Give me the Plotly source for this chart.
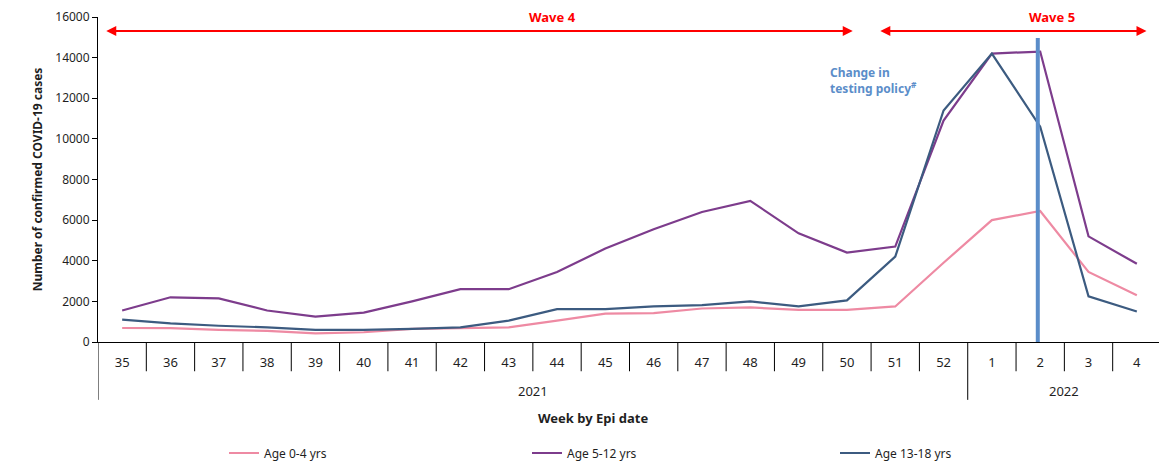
import plotly.graph_objects as go

# data
weeks = ["35", "36", "37", "38", "39", "40", "41", "42", "43", "44", "45",
         "46", "47", "48", "49", "50", "51", "52", "1", "2", "3", "4"]
years = ["2021"] * 18 + ["2022"] * 4

age_0_4 = [690, 680, 600, 550, 420, 480, 650, 700, 720, 1050, 1400,
           1420, 1650, 1700, 1580, 1580, 1750, 3900, 6000, 6450, 3450, 2300]
age_5_12 = [1550, 2200, 2150, 1550, 1250, 1450, 2000, 2600, 2600, 3450, 4600,
            5550, 6400, 6950, 5350, 4400, 4700, 10900, 14200, 14300, 5200, 3850]
age_13_18 = [1100, 920, 800, 720, 600, 600, 650, 720, 1050, 1620, 1620,
             1750, 1820, 2000, 1750, 2050, 4200, 11400, 14200, 10600, 2250, 1500]

series = [
    ("Age 0-4 yrs", age_0_4, "#EE8AA3", "legend"),
    ("Age 5-12 yrs", age_5_12, "#7D3C8C", "legend2"),
    ("Age 13-18 yrs", age_13_18, "#3C5B80", "legend3"),
]

FONT = "Noto Sans"
TXT = "#1f1f1f"
x = list(range(len(weeks)))

fig = go.Figure()
for name, vals, color, leg in series:
    fig.add_trace(go.Scatter(
        x=x, y=vals, name=name, mode="lines", legend=leg,
        line=dict(color=color, width=2.2)
    ))

shapes = []
# week separators (short) and year separators (long)
for i in range(len(weeks) + 1):
    b = i - 0.5
    long_line = i == 0 or i == len(weeks) or years[i] != years[i - 1]
    shapes.append(dict(
        type="line", xref="x", yref="paper", x0=b, x1=b,
        y0=0, y1=-0.178 if long_line else -0.09,
        line=dict(color="black", width=1)
    ))

# change in testing policy marker (week 2 of 2022)
policy_idx = weeks.index("2", 18)
shapes.append(dict(
    type="line", xref="x", yref="y", x0=policy_idx - 0.05, x1=policy_idx - 0.05,
    y0=0, y1=14970, line=dict(color="#5B8DC9", width=4)
))

annotations = []
# year labels
for yr in ["2021", "2022"]:
    idx = [i for i, v in enumerate(years) if v == yr]
    annotations.append(dict(
        x=sum(idx) / len(idx), y=-0.151, xref="x", yref="paper", yanchor="middle",
        text=yr, showarrow=False, font=dict(family=FONT, size=13, color=TXT)
    ))

# wave arrows
for x0, x1, label, lx in [(-0.36, 15.12, "Wave 4", 8.9), (15.66, 21.2, "Wave 5", 19.25)]:
    annotations.append(dict(
        x=x1, y=15310, ax=x0, ay=15310, xref="x", yref="y", axref="x", ayref="y",
        text="", showarrow=True, arrowhead=2, arrowside="end+start",
        arrowsize=1, arrowwidth=2, arrowcolor="#FF0000"
    ))
    annotations.append(dict(
        x=lx, y=16000, xref="x", yref="y", text="<b>" + label + "</b>",
        showarrow=False, font=dict(family=FONT, size=13, color="#FF0000")
    ))

annotations.append(dict(
    x=14.6, y=13800, xref="x", yref="y", xanchor="left", yanchor="top", align="left",
    text="<b>Change in<br>testing policy<sup>#</sup></b>", showarrow=False,
    font=dict(family=FONT, size=12, color="#5B8DC9")
))

annotations.append(dict(
    x=0.466, y=-0.234, xref="paper", yref="paper", yanchor="middle",
    text="<b>Week by Epi date</b>", showarrow=False,
    font=dict(family=FONT, size=13, color=TXT)
))

leg_style = dict(
    orientation="h", y=-0.3415, xanchor="left", yanchor="middle",
    bgcolor="rgba(0,0,0,0)", font=dict(family=FONT, size=12, color=TXT)
)

# page body adds an 8px offset, so the figure is drawn 8px smaller
fig.update_layout(
    width=1159, height=455,
    margin=dict(l=90, r=6, t=9, b=121, autoexpand=False),
    paper_bgcolor="white", plot_bgcolor="white",
    font=dict(family=FONT, size=12, color=TXT),
    showlegend=True,
    legend=dict(x=(224 - 98) / 1063, **leg_style),
    legend2=dict(x=(527 - 98) / 1063, **leg_style),
    legend3=dict(x=(835 - 98) / 1063, **leg_style),
    xaxis=dict(
        range=[-0.5, len(weeks) - 0.5], tickvals=x, ticktext=weeks,
        showgrid=False, zeroline=False, showline=True, linecolor="black", linewidth=1,
        ticks="", ticklabelstandoff=8, automargin=False,
        tickfont=dict(family=FONT, size=13, color=TXT)
    ),
    yaxis=dict(
        range=[0, 16000], dtick=2000, tickformat="d", showgrid=False, zeroline=False,
        showline=True, linecolor="black", linewidth=1, automargin=False,
        ticks="outside", ticklen=5, tickcolor="black",
        tickfont=dict(family=FONT, size=12, color=TXT),
        title=dict(text="<b>Number of confirmed COVID-19 cases</b>", standoff=10,
                   font=dict(family=FONT, size=12, color=TXT))
    ),
    shapes=shapes,
    annotations=annotations,
)

fig.write_html("out.html")
